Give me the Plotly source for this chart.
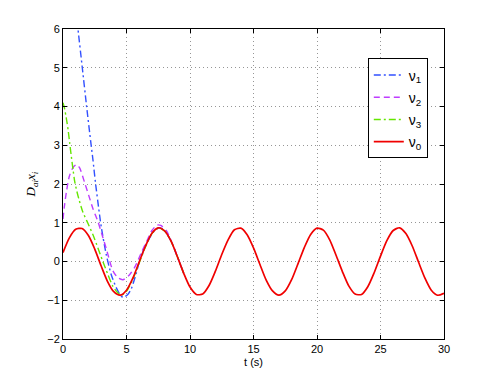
import plotly.graph_objects as go

# nu_0 (reference trajectory)
t0 = [0.0, 0.5, 1.0, 1.5, 2.0, 2.5, 3.0, 3.5, 4.0, 4.5, 5.0, 5.5, 6.0, 6.5, 7.0, 7.5,
      8.0, 8.5, 9.0, 9.5, 10.0, 10.5, 11.0, 11.5, 12.0, 12.5, 13.0, 13.5, 14.0, 14.5,
      15.0, 15.5, 16.0, 16.5, 17.0, 17.5, 18.0, 18.5, 19.0, 19.5, 20.0, 20.5, 21.0,
      21.5, 22.0, 22.5, 23.0, 23.5, 24.0, 24.5, 25.0, 25.5, 26.0, 26.5, 27.0, 27.5,
      28.0, 28.5, 29.0, 29.5, 30.0]
v0 = [0.23, 0.61, 0.83, 0.85, 0.67, 0.32, -0.11, -0.51, -0.78, -0.87, -0.74, -0.43,
      -0.01, 0.40, 0.73, 0.87, 0.79, 0.53, 0.13, -0.30, -0.66, -0.85, -0.84, -0.62,
      -0.25, 0.18, 0.56, 0.82, 0.86, 0.69, 0.35, -0.07, -0.48, -0.76, -0.87, -0.76,
      -0.47, -0.06, 0.36, 0.70, 0.86, 0.81, 0.56, 0.16, -0.26, -0.63, -0.84, -0.85,
      -0.65, -0.29, 0.14, 0.54, 0.80, 0.87, 0.72, 0.40, -0.02, -0.43, -0.74, -0.87, -0.82]

# nu_1
t1 = [1.0, 1.18, 1.52, 1.86, 2.18, 2.36, 2.55, 2.88, 3.02, 3.41, 3.8, 4.2, 4.59, 4.8,
      5.1, 5.38, 5.77, 6.03, 6.56, 7.21, 7.6, 8.0, 8.5, 9.0, 9.5]
v1 = [6.6, 6.0, 5.0, 4.0, 3.1, 2.62, 2.05, 1.2, 0.88, 0.17, -0.34, -0.68, -0.9, -0.92,
      -0.85, -0.7, -0.3, 0.02, 0.45, 0.8, 0.87, 0.80, 0.53, 0.13, -0.30]

# nu_2
t2 = [0.0, 0.1, 0.27, 0.5, 0.8, 1.05, 1.3, 1.71, 2.05, 2.36, 2.75, 3.14, 3.41, 3.67,
      3.93, 4.32, 4.72, 5.24, 5.64, 6.16, 6.56, 7.0, 7.4, 7.7, 8.13, 8.5, 9.0, 9.5]
v2 = [1.1, 1.4, 1.8, 2.2, 2.43, 2.5, 2.42, 2.03, 1.68, 1.36, 1.03, 0.62, 0.33, 0.02,
      -0.24, -0.42, -0.47, -0.34, -0.15, 0.22, 0.5, 0.8, 0.94, 0.93, 0.80, 0.55, 0.14, -0.30]

# nu_3
t3 = [0.0, 0.12, 0.25, 0.4, 0.53, 0.66, 0.8, 0.92, 1.1, 1.26, 1.57, 1.97, 2.36, 2.75,
      3.14, 3.54, 3.93, 4.32, 4.6, 5.0, 5.5, 6.0, 6.5, 7.0, 7.5, 8.0, 8.5, 9.0, 9.5]
v3 = [4.1, 3.95, 3.72, 3.4, 3.05, 2.7, 2.35, 2.07, 1.8, 1.6, 1.27, 0.98, 0.69, 0.35,
      0.0, -0.34, -0.64, -0.81, -0.87, -0.77, -0.46, -0.04, 0.38, 0.72, 0.86, 0.79,
      0.53, 0.13, -0.30]

names = ["ν<sub>1</sub>", "ν<sub>2</sub>", "ν<sub>3</sub>", "ν<sub>0</sub>"]
x_ticks = [0, 5, 10, 15, 20, 25, 30]
y_ticks = [-2, -1, 0, 1, 2, 3, 4, 5, 6]

fig = go.Figure()
series = [
    (t1, v1, names[0], "rgb(50,80,255)", "7px,3px,2px,3px"),
    (t2, v2, names[1], "rgb(190,60,255)", "6px,4px"),
    (t3, v3, names[2], "rgb(100,230,0)", "7px,3px,2px,3px"),
    (t0, v0, names[3], "rgb(240,0,0)", "solid"),
]
for i, (x, y, nm, col, dash) in enumerate(series):
    fig.add_trace(go.Scatter(
        x=x, y=y, name=nm, mode="lines", legendgroup=str(i),
        line=dict(color=col, width=1.7 if dash == "solid" else 1.4, dash=dash,
                  shape="spline", smoothing=0.7),
    ))

axis_common = dict(
    showline=True, linecolor="black", linewidth=1, mirror="ticks",
    ticks="inside", ticklen=4, tickcolor="black",
    showgrid=True, gridcolor="rgb(150,150,150)", griddash="1px,3px", gridwidth=1,
    zeroline=False, tickfont=dict(family="Liberation Sans, Arial", size=11, color="black"),
)

fig.update_layout(
    width=491, height=382,
    margin=dict(l=55, r=55, t=21, b=51),
    paper_bgcolor="white", plot_bgcolor="white",
    xaxis=dict(range=[0, 30], tickvals=x_ticks, title=dict(text="t (s)", standoff=4,
               font=dict(family="Liberation Sans, Arial", size=11, color="black")), **axis_common),
    yaxis=dict(range=[-2, 6], tickvals=y_ticks, title=dict(
        text="<i>D</i><sub><i>ai</i></sub><i>x</i><sub><i>i</i></sub>", standoff=8,
        font=dict(family="Liberation Serif, Times New Roman", size=13, color="black")), **axis_common),
    legend=dict(
        x=0.8, y=0.905, xanchor="left", yanchor="top",
        bordercolor="black", borderwidth=1, bgcolor="white",
        font=dict(family="Liberation Sans, Arial", size=14, color="black"),
        tracegroupgap=1,
    ),
    showlegend=True,
)

fig.write_html("out.html")
